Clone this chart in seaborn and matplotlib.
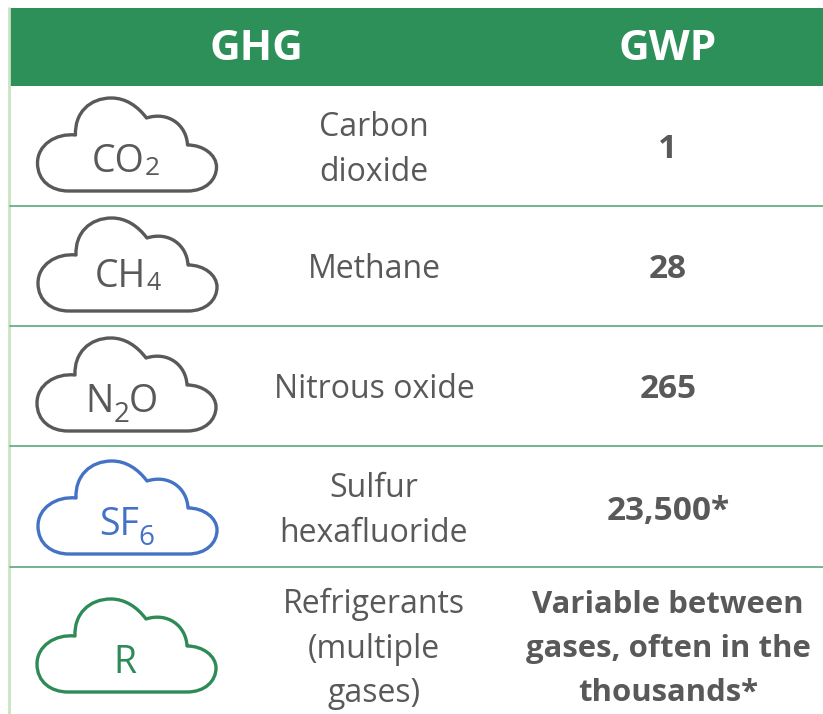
import matplotlib
matplotlib.use("Agg")
import matplotlib.pyplot as plt
import seaborn as sns
from matplotlib.patches import PathPatch, Rectangle
from matplotlib.path import Path

sns.set_theme(style="white")
plt.rcParams['font.family'] = ['Open Sans', 'DejaVu Sans']

# Table content
headers = ["GHG", "GWP"]
names = ["Carbon\ndioxide", "Methane", "Nitrous oxide", "Sulfur\nhexafluoride", "Refrigerants\n(multiple\ngases)"]
gwp = ["1", "28", "265", "23,500*", "Variable between\ngases, often in the\nthousands*"]
formula_parts = [["CO", "2"], ["CH", "4"], ["N", "2", "O"], ["SF", "6"], ["R"]]

GREEN = "#2e9059"
GREY = "#595959"
BLUE = "#4472c4"
CLOUD_GREEN = "#2e8b57"
cloud_colors = [GREY, GREY, GREY, BLUE, CLOUD_GREEN]

# Layout in pixels
row_lines = [206, 326, 446, 567]
name_y = [150, 270, 390, 511, 649]
gwp_y = [150, 270, 390, 511, 649]
gwp_size = [24, 24, 24, 24, 22.4]
cloud_left = [37.5, 38, 37, 38, 37]
cloud_bottom = [191, 311, 431, 554, 692]
baseline = [172, 287, 412, 535, 673]
sub_baseline = [175, 290, 422, 545, 673]
formula_x = [92, 95, 85, 99, 113]
sub_size = [19, 18, 20, 20, 20]

fig, ax = plt.subplots(figsize=(8.23, 7.14), dpi=100)
fig.subplots_adjust(0, 0, 1, 1)
ax.set_xlim(0, 823)
ax.set_ylim(714, 0)
ax.axis("off")

ax.add_patch(Rectangle((10, 8), 813, 78, color=GREEN, lw=0))
ax.plot([9.5, 9.5], [8, 714], color="#c9e3c4", lw=2)
for y in row_lines:
    ax.plot([10, 823], [y, y], color="#5aa87c", lw=1.2)

ax.text(256, 50, headers[0], color="white", fontsize=30.5, fontweight="bold", ha="center", va="center")
ax.text(668, 50, headers[1], color="white", fontsize=30.5, fontweight="bold", ha="center", va="center")


def cloud_path(x0, y1):
    # outline measured from the left and bottom edges of the icon
    pts = [
        (31, 0),
        (150, 0),
        (168, 0), (179, -11), (179, -24),
        (179, -36), (166, -46), (150, -46),
        (149, -66), (131, -80), (109, -73),
        (100, -85), (88, -93), (74, -93),
        (52, -93), (37, -78), (38, -56),
        (18, -58), (0, -46), (0, -28),
        (0, -10), (14, 0), (31, 0),
    ]
    codes = [Path.MOVETO, Path.LINETO] + [Path.CURVE4] * 21
    return Path([(x0 + a, y1 + b) for a, b in pts], codes)


renderer = fig.canvas.get_renderer()
for i, parts in enumerate(formula_parts):
    ax.add_patch(PathPatch(cloud_path(cloud_left[i], cloud_bottom[i]), fill=False,
                           edgecolor=cloud_colors[i], lw=2.4, joinstyle="round"))
    x = formula_x[i]
    for part in parts:
        is_sub = part.isdigit()
        t = ax.text(x, sub_baseline[i] if is_sub else baseline[i], part, color=cloud_colors[i],
                    fontsize=sub_size[i] if is_sub else 27, ha="left", va="baseline")
        x = t.get_window_extent(renderer).x1

    ax.text(374, name_y[i], names[i], color=GREY, fontsize=23, ha="center", va="center", linespacing=1.46)
    ax.text(668, gwp_y[i], gwp[i], color=GREY, fontsize=gwp_size[i], fontweight="bold", ha="center", va="center", linespacing=1.6)

fig.savefig("out.png", dpi=100, facecolor="white")
